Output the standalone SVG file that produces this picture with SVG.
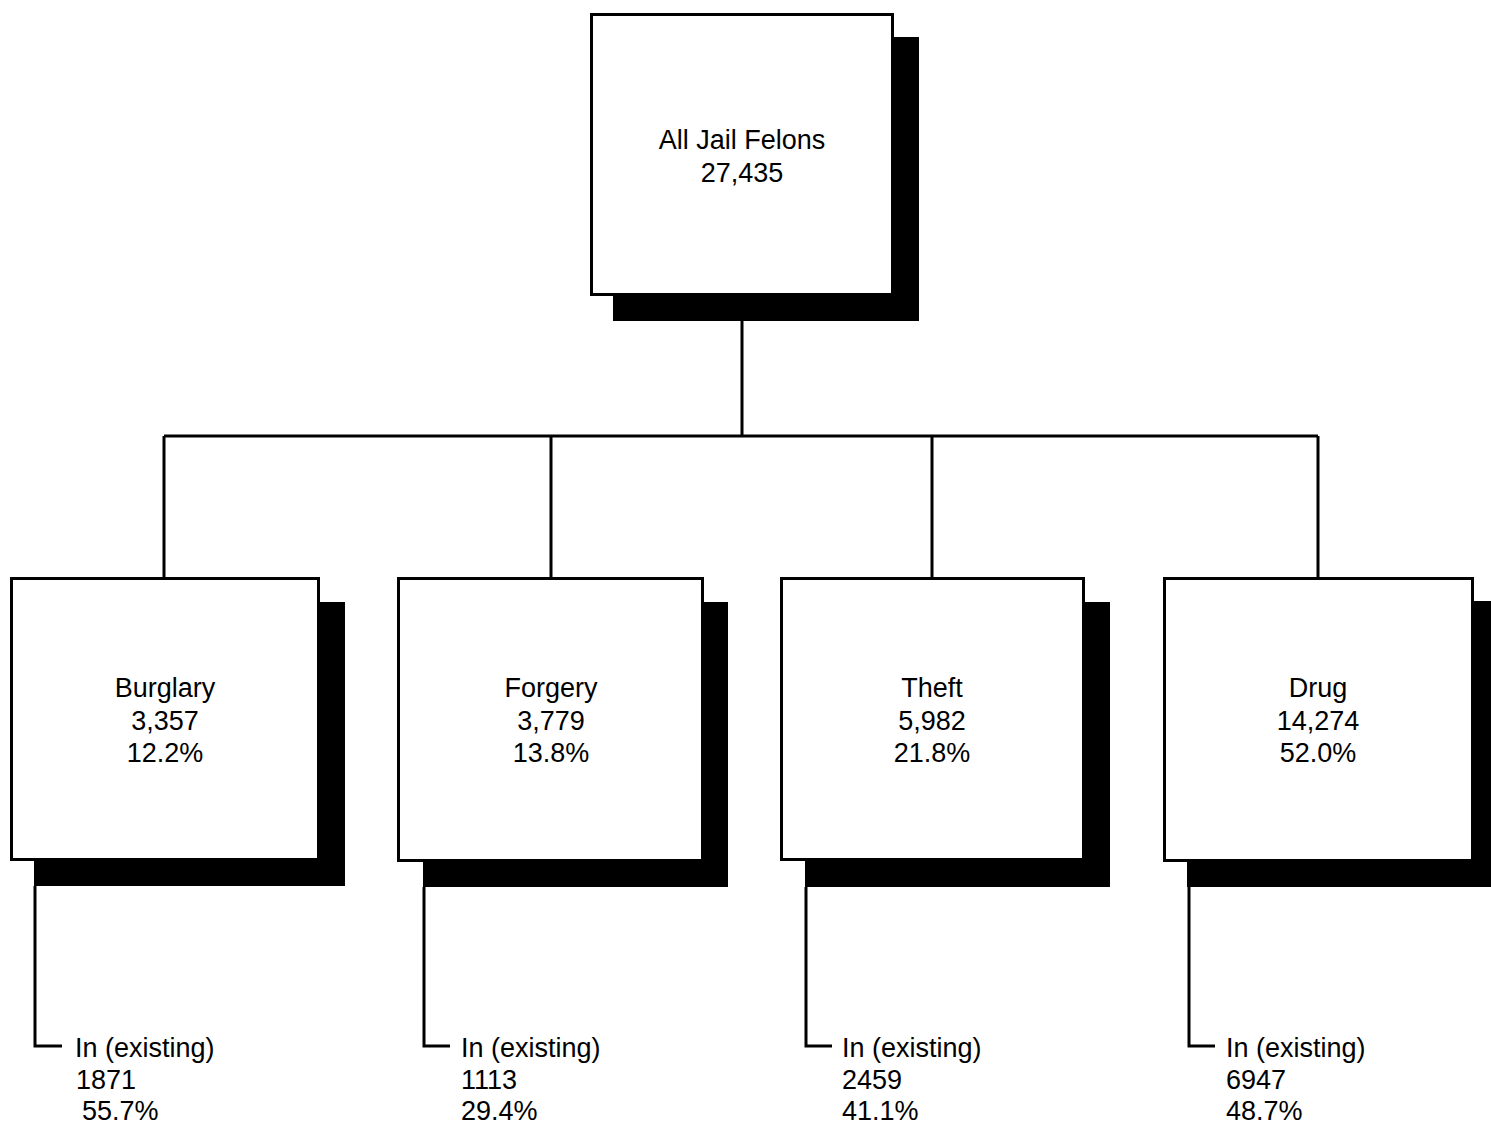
<svg xmlns="http://www.w3.org/2000/svg" width="1491" height="1125" viewBox="0 0 1491 1125">
<style>
.box{fill:#fff;stroke:#000;stroke-width:3}
.shadow{fill:#000}
.t{font-family:"Liberation Sans",Arial,sans-serif;font-size:27px;fill:#000}
.c{text-anchor:middle}
.ln{fill:none;stroke:#000;stroke-width:3}
</style>
<rect width="1491" height="1125" fill="#fff"/>
<g id="connectors">
<path class="ln" d="M742 320V436M164 436H1318M164 436V578M551 436V578M932 436V578M1318 436V578"/>
<path class="ln" d="M35 886V1046H62M424 887V1046H450M806 887V1046H832M1189 887V1046H1215"/>
</g>
<g id="all">
<rect class="shadow" x="613" y="37" width="306" height="284"/>
<rect class="box" x="591.5" y="14.5" width="301" height="280"/>
<text class="t c" x="742" y="149">All Jail Felons</text>
<text class="t c" x="742" y="182">27,435</text>
</g>
<g id="burglary">
<rect class="shadow" x="34" y="602" width="311" height="284"/>
<rect class="box" x="11.5" y="578.5" width="307" height="281"/>
<text class="t c" x="165" y="697">Burglary</text>
<text class="t c" x="165" y="730">3,357</text>
<text class="t c" x="165" y="762">12.2%</text>
</g>
<g id="forgery">
<rect class="shadow" x="423" y="602" width="305" height="285"/>
<rect class="box" x="398.5" y="578.5" width="304" height="282"/>
<text class="t c" x="551" y="697">Forgery</text>
<text class="t c" x="551" y="730">3,779</text>
<text class="t c" x="551" y="762">13.8%</text>
</g>
<g id="theft">
<rect class="shadow" x="805" y="602" width="305" height="285"/>
<rect class="box" x="781.5" y="578.5" width="302" height="281"/>
<text class="t c" x="932" y="697">Theft</text>
<text class="t c" x="932" y="730">5,982</text>
<text class="t c" x="932" y="762">21.8%</text>
</g>
<g id="drug">
<rect class="shadow" x="1187" y="601" width="310" height="286"/>
<rect class="box" x="1164.5" y="578.5" width="308" height="282"/>
<text class="t c" x="1318" y="697">Drug</text>
<text class="t c" x="1318" y="730">14,274</text>
<text class="t c" x="1318" y="762">52.0%</text>
</g>
<g id="burglary-in">
<text class="t" x="75" y="1057">In (existing)</text>
<text class="t" x="76" y="1089">1871</text>
<text class="t" x="82" y="1120">55.7%</text>
</g>
<g id="forgery-in">
<text class="t" x="461" y="1057">In (existing)</text>
<text class="t" x="461" y="1089">1113</text>
<text class="t" x="461" y="1120">29.4%</text>
</g>
<g id="theft-in">
<text class="t" x="842" y="1057">In (existing)</text>
<text class="t" x="842" y="1089">2459</text>
<text class="t" x="842" y="1120">41.1%</text>
</g>
<g id="drug-in">
<text class="t" x="1226" y="1057">In (existing)</text>
<text class="t" x="1226" y="1089">6947</text>
<text class="t" x="1226" y="1120">48.7%</text>
</g>
</svg>
